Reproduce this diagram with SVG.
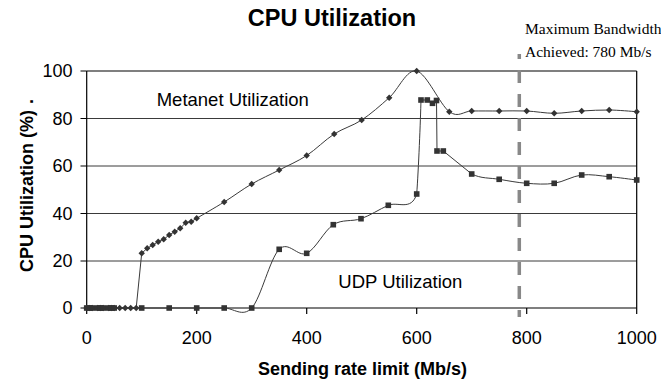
<svg xmlns="http://www.w3.org/2000/svg" width="661" height="381" viewBox="0 0 661 381">
<defs>
<style>
.grid{stroke:#3a3a3a;stroke-width:1;fill:none}
.axis{stroke:#000;stroke-width:1.2;fill:none}
.series{stroke:#3a3a3a;stroke-width:1;fill:none}
.tick{font-family:"Liberation Sans",Arial,sans-serif;font-size:18px;fill:#000}
.lbl{font-family:"Liberation Sans",Arial,sans-serif;font-size:18.5px;fill:#000}
.bold{font-family:"Liberation Sans",Arial,sans-serif;font-weight:bold;fill:#000}
.note{font-family:"Liberation Serif","Times New Roman",serif;font-size:15.5px;fill:#000}
.mk{fill:#333}
</style>
<path id="d" class="mk" d="M0,-3.2 L3.2,0 L0,3.2 L-3.2,0 Z"/>
<rect id="s" class="mk" x="-2.8" y="-2.8" width="5.6" height="5.6"/>
</defs>
<rect width="661" height="381" fill="#fff"/>

<g id="title"><text class="bold" x="332" y="26" font-size="23.5" text-anchor="middle">CPU Utilization</text></g>

<g id="grid">
<line class="grid" x1="86.7" y1="118.5" x2="636.7" y2="118.5"/>
<line class="grid" x1="86.7" y1="166" x2="636.7" y2="166"/>
<line class="grid" x1="86.7" y1="213.5" x2="636.7" y2="213.5"/>
<line class="grid" x1="86.7" y1="261" x2="636.7" y2="261"/>
<line class="axis" x1="86.7" y1="71" x2="636.7" y2="71"/>
<line class="axis" x1="636.7" y1="71" x2="636.7" y2="308"/>
</g>

<g id="axes">
<line class="axis" x1="86.7" y1="71" x2="86.7" y2="308"/>
<line class="axis" x1="80.5" y1="308" x2="636.7" y2="308"/>
<path class="axis" d="M80.5,71H86.7M80.5,118.5H86.7M80.5,166H86.7M80.5,213.5H86.7M80.5,261H86.7M86.7,308V314M196.7,308V314M306.7,308V314M416.7,308V314M526.7,308V314M636.7,308V314"/>
<g class="tick" text-anchor="end">
<text x="72.5" y="77.3">100</text>
<text x="72.5" y="124.8">80</text>
<text x="72.5" y="172.3">60</text>
<text x="72.5" y="219.8">40</text>
<text x="72.5" y="267.3">20</text>
<text x="72.5" y="314.3">0</text>
</g>
<g class="tick" text-anchor="middle">
<text x="86.7" y="344">0</text>
<text x="196.7" y="344">200</text>
<text x="306.7" y="344">400</text>
<text x="416.7" y="344">600</text>
<text x="526.7" y="344">800</text>
<text x="636.7" y="344">1000</text>
</g>
<text class="bold" x="362.5" y="375" font-size="18" text-anchor="middle">Sending rate limit (Mb/s)</text>
<text class="bold" font-size="18" transform="translate(33,272) rotate(-90)">CPU Utilization (%)<tspan dx="1"> .</tspan></text>
</g>

<g id="metanet">
<path class="series" d="M86.7,308 L136.2,308 L141.7,253.3 L147.2,248.3 L152.7,245 L158.2,241.7 L163.7,239.3 L169.2,235 L174.7,231.7 L180.2,228.3 L185.7,222.7 L191.2,221.7 L196.7,218.3 C202.2,215 215,207.7 224.2,202 C233.4,196.3 242.5,189.3 251.7,184 C260.9,178.7 270,174.75 279.2,170 C288.4,165.25 297.5,161.5 306.7,155.5 C315.9,149.5 325,139.9 334.2,134 C343.4,128.1 352.5,126.05 361.7,120 C370.9,113.95 380,105.87 389.2,97.7 C398.4,89.53 406.7,68.67 416.7,71 C426.7,73.33 440.1,105 449.3,111.7 C458.5,118.4 463.4,111.1 471.7,111 C480,110.9 490,111 499.2,111 C508.4,111 517.5,110.6 526.7,111 C535.9,111.4 545,113.3 554.2,113.3 C563.4,113.3 572.5,111.55 581.7,111 C590.9,110.45 600,109.9 609.2,110 C618.4,110.1 632.1,111.4 636.7,111.7"/>
<g>
<use href="#d" x="86.7" y="308"/><use href="#d" x="89.5" y="308"/><use href="#d" x="92.2" y="308"/><use href="#d" x="97.7" y="308"/><use href="#d" x="100.5" y="308"/><use href="#d" x="103.2" y="308"/><use href="#d" x="108.7" y="308"/><use href="#d" x="111.5" y="308"/><use href="#d" x="114.2" y="308"/><use href="#d" x="119.7" y="308"/><use href="#d" x="125.2" y="308"/><use href="#d" x="130.7" y="308"/><use href="#d" x="136.2" y="308"/>
<use href="#d" x="141.7" y="253.3"/><use href="#d" x="147.2" y="248.3"/><use href="#d" x="152.7" y="245"/><use href="#d" x="158.2" y="241.7"/><use href="#d" x="163.7" y="239.3"/><use href="#d" x="169.2" y="235"/><use href="#d" x="174.7" y="231.7"/><use href="#d" x="180.2" y="228.3"/><use href="#d" x="185.7" y="222.7"/><use href="#d" x="191.2" y="221.7"/><use href="#d" x="196.7" y="218.3"/>
<use href="#d" x="224.2" y="202"/><use href="#d" x="251.7" y="184"/><use href="#d" x="279.2" y="170"/><use href="#d" x="306.7" y="155.5"/><use href="#d" x="334.2" y="134"/><use href="#d" x="361.7" y="120"/><use href="#d" x="389.2" y="97.7"/><use href="#d" x="416.7" y="71"/><use href="#d" x="449.3" y="111.7"/><use href="#d" x="471.7" y="111"/><use href="#d" x="499.2" y="111"/><use href="#d" x="526.7" y="111"/><use href="#d" x="554.2" y="113.3"/><use href="#d" x="581.7" y="111"/><use href="#d" x="609.2" y="110"/><use href="#d" x="636.7" y="111.7"/>
</g>
<text class="lbl" x="156.7" y="106">Metanet Utilization</text>
</g>

<g id="udp">
<path class="series" d="M86.7,308 L224.2,308 C233.4,308 242.5,317.8 251.7,308 C260.9,298.2 270,258.4 279.2,249.3 C288.4,240.2 297.7,257.4 306.7,253.3 C315.7,249.2 324.25,230.5 333.3,224.7 C342.35,218.93 351.8,221.9 361,218.7 C370.2,215.5 379,209.4 388.3,205.3 C397.6,201.2 411.25,211.55 416.7,194 C418.5,170 420.5,120 421,100 L427.3,100 L432.5,103.3 L436.5,100.5 L437,151 L443.3,151 L471.7,174 C481,178.7 490,177.75 499.2,179.3 C508.4,180.85 517.5,182.6 526.7,183.3 C535.9,183.97 545,184.7 554.2,183.3 C563.4,181.9 572.5,176.1 581.7,175 C590.9,173.9 600,175.9 609.2,176.7 C618.4,177.5 632.1,179.45 636.7,180"/>
<g>
<use href="#s" x="86.7" y="308"/><use href="#s" x="89.5" y="308"/><use href="#s" x="92.2" y="308"/><use href="#s" x="97.7" y="308"/><use href="#s" x="100.5" y="308"/><use href="#s" x="103.2" y="308"/><use href="#s" x="108.7" y="308"/><use href="#s" x="111.5" y="308"/><use href="#s" x="114.2" y="308"/>
<use href="#s" x="141.7" y="308"/><use href="#s" x="169.2" y="308"/><use href="#s" x="196.7" y="308"/><use href="#s" x="224.2" y="308"/><use href="#s" x="251.7" y="308"/>
<use href="#s" x="279.2" y="249.3"/><use href="#s" x="306.7" y="253.3"/><use href="#s" x="333.3" y="224.7"/><use href="#s" x="361" y="218.7"/><use href="#s" x="388.3" y="205.3"/><use href="#s" x="416.7" y="194"/>
<use href="#s" x="421" y="100"/><use href="#s" x="427.3" y="100"/><use href="#s" x="432.5" y="103.3"/><use href="#s" x="436.5" y="100.5"/><use href="#s" x="437" y="151"/><use href="#s" x="443.3" y="151"/>
<use href="#s" x="471.7" y="174"/><use href="#s" x="499.2" y="179.3"/><use href="#s" x="526.7" y="183.3"/><use href="#s" x="554.2" y="183.3"/><use href="#s" x="581.7" y="175"/><use href="#s" x="609.2" y="176.7"/><use href="#s" x="636.7" y="180"/>
</g>
<text class="lbl" x="338.3" y="288">UDP Utilization</text>
</g>

<g id="max-bandwidth">
<line x1="519.3" y1="54" x2="519.3" y2="317" stroke="#888" stroke-width="3.5" stroke-dasharray="13 11" stroke-dashoffset="8"/>
<text class="note" x="525" y="34">Maximum Bandwidth</text>
<text class="note" x="525" y="57">Achieved: 780 Mb/s</text>
</g>
</svg>
